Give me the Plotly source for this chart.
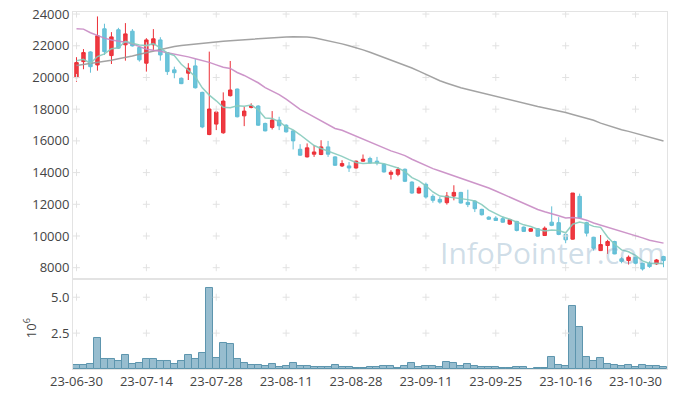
import plotly.graph_objects as go

dates = [
    "23-06-30",
    "23-07-03", "23-07-04", "23-07-05", "23-07-06", "23-07-07",
    "23-07-10", "23-07-11", "23-07-12", "23-07-13", "23-07-14",
    "23-07-17", "23-07-18", "23-07-19", "23-07-20", "23-07-21",
    "23-07-24", "23-07-25", "23-07-26", "23-07-27", "23-07-28",
    "23-07-31", "23-08-01", "23-08-02", "23-08-03", "23-08-04",
    "23-08-07", "23-08-08", "23-08-09", "23-08-10", "23-08-11",
    "23-08-14", "23-08-16", "23-08-17", "23-08-18",
    "23-08-21", "23-08-22", "23-08-23", "23-08-24", "23-08-25",
    "23-08-28", "23-08-29", "23-08-30", "23-08-31", "23-09-01",
    "23-09-04", "23-09-05", "23-09-06", "23-09-07", "23-09-08",
    "23-09-11", "23-09-12", "23-09-13", "23-09-14", "23-09-15",
    "23-09-18", "23-09-19", "23-09-20", "23-09-21", "23-09-22",
    "23-09-25", "23-09-26", "23-09-27",
    "23-10-04", "23-10-05", "23-10-06",
    "23-10-10", "23-10-11", "23-10-12", "23-10-13",
    "23-10-16", "23-10-17", "23-10-18", "23-10-19", "23-10-20",
    "23-10-23", "23-10-24", "23-10-25", "23-10-26", "23-10-27",
    "23-10-30", "23-10-31", "23-11-01", "23-11-02", "23-11-03",
]

opens = [19990, 21000, 21610, 20790, 23070, 21380, 23010, 22060, 22920, 21890,
         20900, 22060, 22370, 21570, 20480, 19950, 20270, 20730, 19060, 16400,
         17060, 16510, 18850, 19270, 17580, 18110, 18200, 17100, 16850, 17310,
         16990, 16630, 15470, 14990, 15160, 15140, 15620, 14990, 14420, 14420,
         14290, 14720, 14890, 14720, 14520, 13890, 13890, 14210, 13400, 12710,
         13260, 12500, 12310, 12100, 12520, 12750, 12120, 12200, 11680, 11190,
         11130, 11090, 10750, 10920, 10560, 10300, 10460, 10030, 10870, 10840,
         10100, 9800, 12500, 10840, 9920, 9080, 9400, 9650, 8560, 8450,
         8660, 8280, 8280, 8240, 8700]
highs = [21280, 21790, 21650, 23850, 23390, 22860, 23130, 23430, 23050, 21950,
         22480, 23050, 22540, 21600, 20680, 20000, 20900, 21150, 19100, 21630,
         17900, 19060, 21040, 19300, 18150, 18370, 18250, 17150, 17880, 17520,
         17050, 16680, 15790, 15840, 15730, 16040, 16000, 15030, 14780, 14670,
         14760, 15140, 15000, 14990, 14570, 14150, 14350, 14260, 13450, 13130,
         13370, 12630, 12460, 12770, 13200, 12780, 12920, 12250, 11720, 11250,
         11250, 11230, 11080, 10960, 10600, 10500, 10500, 10600, 11870, 11190,
         10130, 12710, 12670, 10900, 9950, 10060, 9760, 9700, 8660, 8770,
         8700, 8320, 8400, 8550, 8750]
lows = [19730, 20520, 20300, 20430, 21420, 20850, 21800, 21060, 21950, 21000,
        20370, 21740, 21060, 20160, 19950, 19580, 19840, 19300, 16800, 16360,
        16680, 16450, 18800, 17480, 16930, 18050, 16950, 16600, 16720, 16680,
        16520, 15460, 15050, 14950, 14990, 15100, 14990, 14420, 14350, 14040,
        14250, 14670, 14580, 14460, 14000, 13560, 13770, 13400, 12660, 12680,
        12360, 12100, 12040, 11980, 12250, 12050, 11820, 11510, 11290, 11020,
        10950, 10830, 10700, 10290, 10250, 10270, 9950, 10000, 10620, 10050,
        9545, 9770, 11100, 9970, 9080, 9050, 8870, 8850, 8280, 8200,
        8150, 7820, 7990, 8180, 8030]
closes = [20940, 21570, 20680, 22630, 21630, 22560, 21850, 22750, 21990, 21110,
          22370, 22440, 21420, 20370, 20300, 19610, 20580, 19350, 16880, 18010,
          17820, 18510, 19210, 17520, 17880, 18220, 16990, 16630, 17310, 16950,
          16570, 16000, 15100, 15560, 15300, 15620, 15160, 14460, 14570, 14290,
          14720, 14840, 14610, 14610, 14040, 14020, 14190, 13450, 12710, 13020,
          12460, 12250, 12140, 12520, 12750, 12080, 11980, 11720, 11340, 11060,
          10980, 10870, 11030, 10350, 10290, 10460, 9990, 10490, 10670, 10100,
          9760, 12710, 11150, 10180, 9230, 9460, 9650, 8870, 8400, 8660,
          8280, 7920, 8070, 8490, 8450]

# volume in millions of shares
volume_m = [0.30, 0.30, 0.37, 2.13, 0.72, 0.72, 0.54, 1.00, 0.37, 0.44,
            0.72, 0.72, 0.58, 0.58, 0.37, 0.58, 1.00, 0.72, 1.14, 5.63,
            0.79, 1.78, 1.71, 0.72, 0.44, 0.30, 0.30, 0.23, 0.37, 0.16,
            0.23, 0.44, 0.23, 0.23, 0.16, 0.16, 0.16, 0.30, 0.16, 0.16,
            0.09, 0.09, 0.16, 0.16, 0.23, 0.23, 0.09, 0.23, 0.44, 0.16,
            0.23, 0.23, 0.16, 0.51, 0.44, 0.23, 0.37, 0.23, 0.16, 0.16,
            0.16, 0.09, 0.09, 0.16, 0.16, 0.02, 0.09, 0.09, 0.86, 0.30,
            0.23, 4.39, 2.90, 0.86, 0.58, 0.79, 0.37, 0.30, 0.23, 0.30,
            0.16, 0.30, 0.23, 0.23, 0.16]

# moving-average values that depend on sessions before the first shown date
ma5_head = [21050, 21150, 20900, 21320]
ma20_head = [23070, 23050, 22820, 22630, 22480, 22360, 22300, 22220, 22120, 21950,
             21780, 21710, 21660, 21560, 21480, 21380, 21300, 21180, 21080]
ma_long = [20750, 20810, 20870, 20930, 21000, 21090, 21180, 21260, 21360, 21470,
           21570, 21680, 21780, 21870, 21960, 22020, 22070, 22120, 22160, 22200,
           22240, 22280, 22320, 22350, 22390, 22430, 22470, 22500, 22520, 22540,
           22560, 22570, 22580, 22560, 22510, 22420, 22330, 22230, 22120, 22000,
           21880, 21740, 21590, 21430, 21270, 21110, 20950, 20780, 20600, 20400,
           20180, 19970, 19790, 19640, 19480, 19350, 19240, 19130, 19010, 18900,
           18790, 18680, 18580, 18480, 18380, 18270, 18170, 18080, 17990, 17890,
           17790, 17670, 17540, 17440, 17300, 17120, 16990, 16810, 16700, 16600,
           16480, 16340, 16200, 16090, 15990]

price_ticks = [8000, 10000, 12000, 14000, 16000, 18000, 20000, 22000, 24000]
vol_ticks = [2.5, 5.0]
vol_ticktext = ["2.5", "5.0"]


def moving(values, n, head):
    out = list(head)
    for i in range(len(head), len(values)):
        w = values[i - n + 1:i + 1]
        out.append(sum(w) / len(w))
    return out


ma5 = moving(closes, 5, ma5_head)
ma20 = moving(closes, 20, ma20_head)

tick_dates = dates[::10]

fig = go.Figure()

gx, gy = [], []
for d in tick_dates:
    for v in price_ticks:
        gx.append(d)
        gy.append(v)
vx, vy = [], []
for d in tick_dates:
    for v in vol_ticks:
        vx.append(d)
        vy.append(v)

fig.add_trace(go.Candlestick(
    x=dates, open=opens, high=highs, low=lows, close=closes,
    increasing=dict(line=dict(color="#ec2f37", width=1), fillcolor="#ee3a41"),
    decreasing=dict(line=dict(color="#62bfd6", width=1), fillcolor="#6cc4da"),
    whiskerwidth=0, showlegend=False, xaxis="x", yaxis="y"))

# grid crosses at tick intersections
fig.add_trace(go.Scatter(x=gx, y=gy, mode="markers", hoverinfo="skip",
                         marker=dict(symbol="cross-thin", size=5,
                                     line=dict(color="#e2e2e2", width=1)),
                         showlegend=False, xaxis="x", yaxis="y"))
fig.add_trace(go.Scatter(x=vx, y=vy, mode="markers", hoverinfo="skip",
                         marker=dict(symbol="cross-thin", size=5,
                                     line=dict(color="#e2e2e2", width=1)),
                         showlegend=False, xaxis="x2", yaxis="y2"))

fig.add_trace(go.Scatter(x=dates, y=ma_long, mode="lines",
                         line=dict(color="#9a9a9a", width=1.5), opacity=0.9,
                         showlegend=False, xaxis="x", yaxis="y"))
fig.add_trace(go.Scatter(x=dates, y=ma20, mode="lines",
                         line=dict(color="#c88ac4", width=1.5), opacity=0.9,
                         showlegend=False, xaxis="x", yaxis="y"))
fig.add_trace(go.Scatter(x=dates, y=ma5, mode="lines",
                         line=dict(color="#86cbbd", width=1.5), opacity=0.9,
                         showlegend=False, xaxis="x", yaxis="y"))

fig.add_trace(go.Bar(x=dates, y=volume_m,
                     marker=dict(color="rgba(125,172,195,0.8)",
                                 line=dict(color="#5d95ae", width=1)),
                     showlegend=False, xaxis="x2", yaxis="y2"))

axis_line = "#e3e3e3"
font_col = "#444444"

fig.update_layout(
    width=677, height=398,
    margin=dict(l=73, r=10, t=12, b=29, autoexpand=False),
    paper_bgcolor="white", plot_bgcolor="white",
    font=dict(family="Open Sans", size=13, color=font_col),
    bargap=0, showlegend=False,
    xaxis=dict(type="category", categoryorder="array", categoryarray=dates,
               range=[-0.5, len(dates) - 0.5], anchor="y", automargin=False,
               domain=[0, 1], showticklabels=False, showgrid=False,
               rangeslider=dict(visible=False), showline=True, mirror=True,
               linecolor=axis_line, linewidth=1, zeroline=False),
    yaxis=dict(domain=[0.2549, 1], range=[7350, 24130], tickvals=price_ticks,
               tickformat="d", automargin=False,
               showgrid=False, zeroline=False, showline=True, mirror=True,
               linecolor=axis_line, linewidth=1, tickfont=dict(size=13)),
    xaxis2=dict(type="category", categoryorder="array", categoryarray=dates,
                range=[-0.5, len(dates) - 0.5], anchor="y2", automargin=False,
                matches="x", domain=[0, 1], tickvals=tick_dates,
                tickangle=0,
                showgrid=False, showline=True, mirror=True,
                linecolor=axis_line, linewidth=1, zeroline=False,
                tickfont=dict(size=13)),
    yaxis2=dict(domain=[0, 0.2493], range=[0, 6.2], tickvals=vol_ticks,
                ticktext=vol_ticktext, showgrid=False, zeroline=False,
                automargin=False,
                showline=True, mirror=True, linecolor=axis_line, linewidth=1,
                tickfont=dict(size=13)),
    annotations=[
        dict(text="InfoPointer.com", xref="paper", yref="paper",
             x=1.0, y=0.262, xanchor="right", yanchor="bottom",
             showarrow=False,
             font=dict(family="Open Sans", size=30,
                       color="rgba(120,160,190,0.36)")),
        dict(text="10<sup>6</sup>", xref="paper", yref="paper",
             x=-0.072, y=0.115, xanchor="center", yanchor="middle",
             textangle=-90, showarrow=False,
             font=dict(family="Open Sans", size=13, color=font_col)),
    ],
)

fig.write_html("out.html", config={"displayModeBar": False},
               post_script="document.body.style.margin='0px';")
